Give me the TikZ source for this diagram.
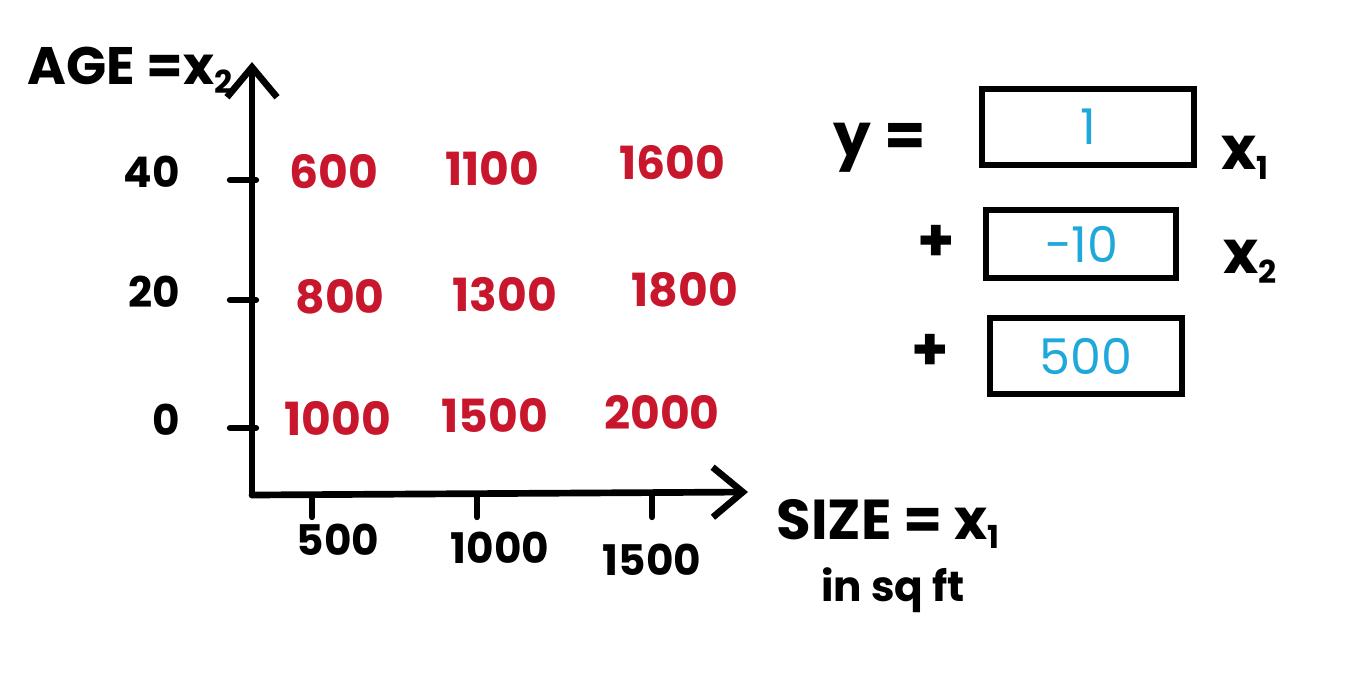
\documentclass[tikz,border=0pt]{standalone}
\usepackage{fontspec}
\setmainfont{Poppins}
\usepackage{tikz}
\usetikzlibrary{arrows.meta,positioning}
\definecolor{valred}{RGB}{200,22,45}
\definecolor{coefcyan}{RGB}{32,168,218}
\newcommand{\vsub}[2]{#1\raisebox{-0.3ex}{\fontsize{9}{10}\selectfont #2}}
\tikzset{
  axis/.style  = {-{Straight Barb[length=3mm,width=5mm]}, line width=1.9pt, line cap=round},
  tick/.style  = {line width=1.8pt, line cap=round},
  lbl/.style   = {font=\bfseries\fontsize{12}{14}\selectfont, inner sep=1pt},
  big/.style   = {font=\bfseries\fontsize{15}{17}\selectfont, inner sep=1pt},
  val/.style   = {font=\bfseries\fontsize{13}{15}\selectfont, text=valred, inner sep=1pt},
  cbox/.style  = {draw, line width=1.9pt, font=\fontsize{14}{16}\selectfont, text=coefcyan},
  ops/.style   = {font=\bfseries\fontsize{17}{19}\selectfont, inner sep=1pt},
}
\begin{document}
\begin{tikzpicture}[x=0.01cm,y=-0.01cm]
  \useasboundingbox (0,0) rectangle (1346,672);
  % axes
  \coordinate (o) at (252,495);
  \coordinate (ytop) at (252,62);
  \coordinate (xend) at (748,492);
  \draw[axis] (o) -- (ytop);
  \draw[axis] (o) -- (xend);
  \node[big] (agelbl) at (130,70) {AGE =\vsub{x}{2}};
  \node[big,font=\bfseries\fontsize{16}{18}\selectfont] (sizelbl) at (888,524) {SIZE = \vsub{x}{1}};
  \node[lbl] (unitlbl) at (893,590) {in sq ft};
  % y ticks
  \foreach \yy/\t/\n in {180/40/a, 300/20/b, 428/0/c}{
    \coordinate (yt\n) at (230,\yy);
    \coordinate (yu\n) at (256,\yy);
    \draw[tick] (yt\n) -- (yu\n);
    \node[lbl,anchor=east] (yl\n) at (184,\yy-8) {\t};
  }
  % x ticks
  \foreach \xx/\n in {312/a, 477/b, 652/c}{
    \coordinate (xt\n) at (\xx,495);
    \coordinate (xu\n) at (\xx,517);
    \draw[tick] (xt\n) -- (xu\n);
  }
  \node[lbl] (xla) at (338,540) {500};
  \node[lbl] (xlb) at (500,548) {1000};
  \node[lbl] (xlc) at (652,560) {1500};
  % prices
  \node[val] (p11) at (334,172) {600};
  \node[val] (p12) at (492,168) {1100};
  \node[val] (p13) at (672,163) {1600};
  \node[val] (p21) at (340,297) {800};
  \node[val] (p22) at (505,295) {1300};
  \node[val] (p23) at (685,290) {1800};
  \node[val] (p31) at (338,418) {1000};
  \node[val] (p32) at (495,415) {1500};
  \node[val] (p33) at (662,412) {2000};
  % model
  \node[ops] (ylbl) at (880,148) {y =};
  \node[cbox,minimum width=2.12cm,minimum height=0.76cm] (w1) at (1088,127) {1};
  \node[cbox,minimum width=1.9cm,minimum height=0.68cm] (w2) at (1081,244) {\textminus10};
  \node[cbox,minimum width=1.92cm,minimum height=0.76cm] (w3) at (1086,356) {500};
  \node[ops] (x1lbl) at (1245,158) {\vsub{x}{1}};
  \node[ops] (x2lbl) at (1250,262) {\vsub{x}{2}};
  \node[ops] (pl1) at (936,243) {+};
  \node[ops] (pl2) at (930,352) {+};
\end{tikzpicture}
\end{document}
